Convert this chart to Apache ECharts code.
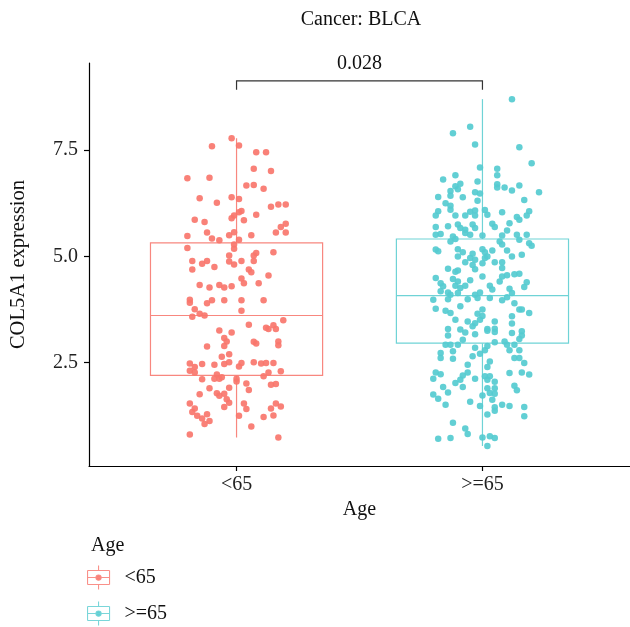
<!DOCTYPE html>
<html>
<head>
<meta charset="utf-8">
<script src="https://cdn.jsdelivr.net/npm/echarts@6/dist/echarts.min.js"></script>
<style>
  html, body { margin: 0; padding: 0; background: #fff; }
  #chart { width: 630px; height: 627px; }
</style>
</head>
<body>
<div id="chart"></div>
<script>
// Age groups on the x axis
const groups = ['<65', '>=65'];

// COL5A1 expression per sample, age < 65
const exprUnder65 = [
  7.78, 7.59, 7.61, 7.45, 7.45, 6.84, 6.85, 7.06, 7.01, 6.67, 6.68, 6.59, 6.37, 6.26, 6.39, 6.35,
  6.17, 6.22, 6.22, 6.07, 6.04, 5.96, 5.90, 5.98, 5.86, 5.81, 5.85, 5.77, 5.69, 5.56, 5.56, 5.56,
  5.48, 5.42, 5.38, 5.50, 5.57, 5.39, 5.50, 5.28, 5.18, 5.20, 5.10, 5.08, 5.02, 5.02, 4.89, 4.89,
  4.83, 4.88, 4.81, 4.89, 4.89, 4.75, 4.69, 4.69, 4.63, 4.48, 4.37, 4.55, 4.37, 4.33, 4.27, 4.33,
  4.30, 4.27, 3.98, 3.91, 3.97, 3.90, 3.97, 3.97, 3.97, 3.76, 3.65, 3.61, 3.58, 3.72, 3.39, 3.26,
  3.32, 3.29, 3.38, 3.29, 3.50, 3.08, 3.21, 3.00, 2.89, 2.88, 2.99, 2.95, 3.00, 2.91, 2.64, 2.70,
  2.48, 2.40, 2.47, 2.31, 2.27, 2.45, 2.47, 2.51, 2.41, 2.49, 2.51, 2.48, 2.49, 2.49, 2.22, 2.12,
  2.12, 2.16, 2.12, 2.06, 2.18, 2.27, 2.30, 2.11, 2.01, 1.86, 2.00, 1.98, 1.90, 1.76, 1.78, 1.77,
  1.91, 1.72, 1.64, 1.56, 1.46, 1.54, 1.42, 1.34, 1.25, 1.19, 1.29, 1.13, 1.06, 1.54, 1.41, 1.25,
  1.22, 1.42, 1.26, 1.54, 1.47, 1.00, 0.81, 0.74
];
// horizontal jitter of each sample around its group (axis units)
const jitterUnder65 = [
  -0.02, -0.10, 0.01, 0.08, 0.12, -0.20, -0.11, 0.07, 0.14, 0.04, 0.07, 0.11, -0.15, -0.08, -0.02, 0.01,
  0.14, 0.17, 0.20, 0.02, 0.01, -0.01, -0.02, 0.08, -0.17, -0.13, 0.03, 0.20, 0.18, -0.12, 0.16, 0.20,
  -0.20, -0.10, -0.07, -0.03, -0.01, 0.01, 0.06, -0.01, -0.01, -0.20, 0.15, 0.08, 0.07, -0.03, -0.18, -0.12,
  -0.14, -0.03, -0.01, 0.02, 0.07, -0.09, -0.18, 0.05, 0.06, 0.02, 0.03, 0.13, 0.09, -0.15, -0.11, -0.07,
  -0.02, -0.05, -0.19, -0.19, -0.10, -0.12, -0.05, 0.02, 0.11, -0.17, -0.15, -0.13, -0.18, 0.02, 0.05, -0.07,
  0.12, 0.13, 0.15, 0.16, 0.19, -0.05, -0.02, -0.04, -0.05, -0.12, 0.07, 0.08, 0.17, 0.17, -0.06, -0.03,
  -0.19, -0.17, -0.14, -0.19, -0.17, -0.09, -0.05, -0.03, 0.01, 0.02, 0.07, 0.10, 0.12, 0.15, -0.08, -0.09,
  -0.07, -0.06, 0.00, 0.00, 0.11, 0.13, 0.18, -0.14, 0.04, 0.05, 0.16, 0.14, -0.11, -0.15, -0.08, -0.05,
  -0.03, -0.07, -0.04, -0.03, -0.05, -0.19, -0.17, -0.18, -0.16, -0.14, -0.12, -0.11, -0.13, 0.03, 0.04, 0.01,
  0.11, 0.14, 0.15, 0.16, 0.18, 0.06, -0.19, 0.17
];

// COL5A1 expression per sample, age >= 65
const expr65Plus = [
  8.70, 8.05, 7.90, 7.63, 7.57, 7.19, 7.09, 7.06, 6.91, 6.81, 6.91, 6.76, 6.71, 6.65, 6.58, 6.54,
  6.70, 6.62, 6.62, 6.55, 6.67, 6.51, 6.40, 6.43, 6.39, 6.51, 6.48, 6.33, 6.31, 6.25, 6.19, 6.06,
  6.10, 6.05, 6.08, 6.09, 6.04, 6.06, 5.96, 5.96, 5.96, 5.98, 5.93, 5.86, 5.96, 5.96, 5.69, 5.71,
  5.75, 5.67, 5.63, 5.75, 5.67, 5.77, 5.69, 5.78, 5.51, 5.53, 5.47, 5.55, 5.51, 5.49, 5.49, 5.61,
  5.51, 5.51, 5.35, 5.41, 5.35, 5.28, 5.39, 5.31, 5.25, 5.16, 5.12, 5.17, 5.10, 5.06, 5.17, 5.10,
  5.14, 5.14, 5.00, 5.04, 5.00, 4.96, 4.92, 4.96, 5.00, 4.86, 4.80, 4.84, 4.86, 4.86, 4.73, 4.71,
  4.70, 4.64, 4.67, 4.53, 4.53, 4.56, 4.58, 4.59, 4.49, 4.47, 4.41, 4.44, 4.37, 4.30, 4.31, 4.26,
  4.31, 4.41, 4.39, 4.28, 4.31, 4.22, 4.18, 4.15, 4.10, 4.14, 4.15, 4.10, 4.24, 4.14, 4.04, 3.99,
  3.99, 4.02, 4.02, 3.97, 3.98, 3.90, 3.77, 3.72, 3.67, 3.83, 3.65, 3.75, 3.60, 3.75, 3.75, 3.67,
  3.59, 3.51, 3.47, 3.43, 3.51, 3.47, 3.29, 3.28, 3.36, 3.29, 3.30, 3.42, 3.21, 3.14, 3.17, 3.25,
  3.22, 3.20, 3.24, 3.14, 3.06, 2.92, 2.92, 2.92, 3.04, 2.85, 2.71, 2.79, 2.89, 2.98, 3.00, 2.92,
  2.79, 2.92, 2.79, 2.73, 2.61, 2.77, 2.59, 2.65, 2.53, 2.61, 2.61, 2.49, 2.45, 2.40, 2.27, 2.23,
  2.12, 2.20, 2.27, 2.10, 2.02, 2.12, 2.18, 2.10, 2.18, 2.05, 2.26, 2.27, 2.22, 1.93, 1.93, 1.80,
  1.75, 1.65, 1.90, 1.90, 1.79, 1.77, 1.73, 1.63, 1.96, 1.85, 1.51, 1.58, 1.48, 1.45, 1.37, 1.51,
  1.48, 1.46, 1.28, 1.24, 1.09, 0.95, 0.82, 0.71, 0.73, 0.74, 0.77, 0.73, 0.54
];
const jitter65Plus = [
  0.12, -0.05, -0.12, -0.03, 0.15, 0.20, -0.01, 0.06, 0.06, -0.16, -0.11, -0.02, -0.09, -0.11, -0.10, -0.13,
  0.06, 0.06, 0.09, 0.12, 0.15, 0.23, -0.18, -0.13, -0.08, -0.03, -0.01, 0.17, -0.02, -0.15, -0.13, -0.18,
  -0.13, -0.05, -0.03, 0.01, 0.08, 0.19, -0.19, -0.11, -0.03, 0.02, 0.14, 0.15, 0.18, -0.07, -0.19, -0.14,
  -0.10, -0.09, -0.07, -0.04, -0.03, 0.04, 0.05, 0.11, -0.19, -0.17, -0.12, -0.07, -0.05, 0.00, 0.08, 0.10,
  0.14, 0.18, -0.13, -0.11, 0.07, 0.08, 0.15, 0.19, 0.20, -0.19, -0.18, -0.10, -0.08, -0.04, 0.00, 0.01,
  0.04, 0.10, 0.12, 0.16, -0.10, -0.05, -0.03, 0.01, 0.02, -0.07, -0.04, 0.00, 0.05, 0.08, 0.08, -0.14,
  -0.03, -0.11, -0.10, 0.00, 0.08, 0.10, 0.13, 0.15, -0.19, -0.12, -0.10, -0.05, -0.17, -0.16, -0.11, -0.09,
  -0.07, 0.07, 0.18, 0.17, 0.03, 0.04, -0.17, -0.14, -0.13, -0.10, -0.01, -0.03, 0.11, 0.12, 0.10, -0.14,
  -0.06, -0.02, 0.03, 0.08, -0.20, 0.13, -0.19, -0.15, -0.13, -0.09, -0.02, 0.00, 0.00, 0.15, 0.16, 0.19,
  0.12, -0.11, -0.06, -0.03, -0.01, 0.05, -0.14, -0.09, -0.04, 0.02, 0.05, 0.12, -0.07, -0.14, -0.03, 0.02,
  0.05, 0.12, 0.16, 0.16, 0.15, -0.15, -0.13, -0.10, -0.08, -0.03, -0.01, 0.01, 0.02, 0.05, 0.09, 0.10,
  0.11, 0.13, 0.15, -0.17, -0.17, -0.12, -0.12, -0.04, 0.03, 0.13, 0.15, 0.17, -0.06, 0.02, -0.19, -0.17,
  -0.20, -0.08, -0.06, -0.09, -0.11, -0.03, 0.01, 0.02, 0.03, 0.05, 0.11, 0.16, 0.19, -0.16, -0.08, -0.14,
  -0.20, -0.18, 0.02, 0.05, 0.03, 0.05, 0.00, 0.04, 0.13, 0.14, -0.15, -0.05, -0.01, 0.05, 0.05, 0.08,
  0.11, 0.17, 0.02, 0.17, -0.12, -0.07, -0.06, -0.18, -0.13, 0.00, 0.03, 0.05, 0.02
];

// Box summaries: [min, Q1, median, Q3, max]
const boxStats = [
  [0.74, 2.20, 3.61, 5.32, 7.78],
  [0.54, 2.96, 4.08, 5.41, 8.70]
];

// Comparison between the two groups
const comparison = { from: 1, to: 2, pLabel: '0.028', top: 9.13, foot: 8.92 };

const pointColors = ['#F8766D', '#55CBD0'];
const boxColors = ['#F8877F', '#6FD3D6'];
const FONT = 'Liberation Serif';
const TEXT = '#111';

const chart = echarts.init(document.getElementById('chart'), null, { renderer: 'canvas' });

function pointsOf(gi, values, jitter) {
  return values.map((v, i) => [gi + 1 + jitter[i], v]);
}

const boxWidth = 0.7;

// legend glyph: whiskers and box drawn as single segments (no fill area), filled centre dot
const glyph = 'path://M12,0L12,5M1,5L23,5M23,5L23,19M23,19L1,19M1,19L1,5M1,12L23,12M12,19L12,24' +
              'M9.4,12a2.6,2.6 0 1,0 5.2,0a2.6,2.6 0 1,0 -5.2,0';

function legendFor(i, top) {
  return {
    orient: 'vertical',
    left: 82, top: top,
    itemWidth: 24, itemHeight: 24,
    textStyle: { fontFamily: FONT, fontSize: 20, color: TEXT, padding: [0, 0, 0, 9] },
    data: [{
      name: groups[i],
      icon: glyph,
      itemStyle: { color: pointColors[i], borderColor: boxColors[i], borderWidth: 1.1 }
    }]
  };
}

const option = {
  animation: false,
  backgroundColor: '#ffffff',
  title: [
    {
      text: 'Cancer: BLCA',
      left: 356, top: 5, textAlign: 'center',
      textStyle: { fontFamily: FONT, fontSize: 20, fontWeight: 'normal', color: TEXT }
    },
    {
      text: 'Age',
      left: 86, top: 531,
      textStyle: { fontFamily: FONT, fontSize: 20, fontWeight: 'normal', color: TEXT }
    }
  ],
  legend: [legendFor(0, 560), legendFor(1, 596)],
  grid: { left: 89, top: 63, width: 544, height: 403 },
  xAxis: {
    type: 'value',
    min: 0.4, max: 2.6,
    name: 'Age', nameLocation: 'middle', nameGap: 32,
    nameTextStyle: { fontFamily: FONT, fontSize: 20, color: TEXT },
    axisLine: { show: true, lineStyle: { color: '#000', width: 1.2 } },
    axisTick: { show: true, length: 5, lineStyle: { color: '#000', width: 1.2 }, customValues: [1, 2] },
    axisLabel: {
      customValues: [1, 2], margin: 9,
      fontFamily: FONT, fontSize: 20, color: '#222',
      formatter: v => groups[Math.round(v) - 1]
    },
    splitLine: { show: false }
  },
  yAxis: {
    type: 'value',
    min: 0.07, max: 9.55,
    name: 'COL5A1 expression', nameLocation: 'middle', nameGap: 60,
    nameTextStyle: { fontFamily: FONT, fontSize: 20.5, color: TEXT },
    axisLine: { show: true, lineStyle: { color: '#000', width: 1.2 } },
    axisTick: { show: true, length: 5, lineStyle: { color: '#000', width: 1.2 }, customValues: [2.5, 5, 7.5] },
    axisLabel: {
      customValues: [2.5, 5, 7.5], margin: 11,
      fontFamily: FONT, fontSize: 20, color: '#222',
      formatter: v => v.toFixed(1)
    },
    splitLine: { show: false }
  },
  series: [
    {
      type: 'custom',
      name: 'box',
      z: 1,
      data: boxStats.map((s, i) => [i + 1].concat(s)),
      renderItem: function (params, api) {
        const x = api.value(0);
        const lo = api.value(1), q1 = api.value(2), med = api.value(3), q3 = api.value(4), hi = api.value(5);
        const c = boxColors[params.dataIndex];
        const half = boxWidth / 2;
        const pHi = api.coord([x, hi]);
        const pLo = api.coord([x, lo]);
        const tl = api.coord([x - half, q3]);
        const br = api.coord([x + half, q1]);
        const mL = api.coord([x - half, med]);
        const mR = api.coord([x + half, med]);
        const style = { stroke: c, lineWidth: 1.2, fill: null };
        return {
          type: 'group',
          children: [
            { type: 'line', shape: { x1: pHi[0], y1: pHi[1], x2: pHi[0], y2: tl[1] }, style: style },
            { type: 'line', shape: { x1: pLo[0], y1: br[1], x2: pLo[0], y2: pLo[1] }, style: style },
            { type: 'rect', shape: { x: tl[0], y: tl[1], width: br[0] - tl[0], height: br[1] - tl[1] },
              style: { stroke: c, lineWidth: 1.2, fill: '#fff' } },
            { type: 'line', shape: { x1: mL[0], y1: mL[1], x2: mR[0], y2: mR[1] }, style: style }
          ]
        };
      }
    },
    {
      type: 'scatter', name: groups[0], z: 3,
      symbolSize: 6.5,
      itemStyle: { color: pointColors[0], opacity: 0.92 },
      data: pointsOf(0, exprUnder65, jitterUnder65)
    },
    {
      type: 'scatter', name: groups[1], z: 3,
      symbolSize: 6.5,
      itemStyle: { color: pointColors[1], opacity: 0.92 },
      data: pointsOf(1, expr65Plus, jitter65Plus)
    },
    {
      type: 'custom',
      name: 'comparison',
      z: 4,
      clip: false,
      data: [[comparison.from, comparison.to, comparison.top, comparison.foot]],
      renderItem: function (params, api) {
        const a = api.coord([api.value(0), api.value(2)]);
        const b = api.coord([api.value(1), api.value(2)]);
        const aF = api.coord([api.value(0), api.value(3)]);
        const bF = api.coord([api.value(1), api.value(3)]);
        return {
          type: 'group',
          children: [
            { type: 'polyline',
              shape: { points: [[aF[0], aF[1]], [a[0], a[1]], [b[0], b[1]], [bF[0], bF[1]]] },
              style: { stroke: '#333', lineWidth: 1.2, fill: null } },
            { type: 'text',
              style: { text: comparison.pLabel, x: (a[0] + b[0]) / 2, y: a[1] - 7,
                       align: 'center', verticalAlign: 'bottom',
                       font: '20px "' + FONT + '"', fill: TEXT } }
          ]
        };
      }
    }
  ]
};

chart.setOption(option);
</script>
</body>
</html>
